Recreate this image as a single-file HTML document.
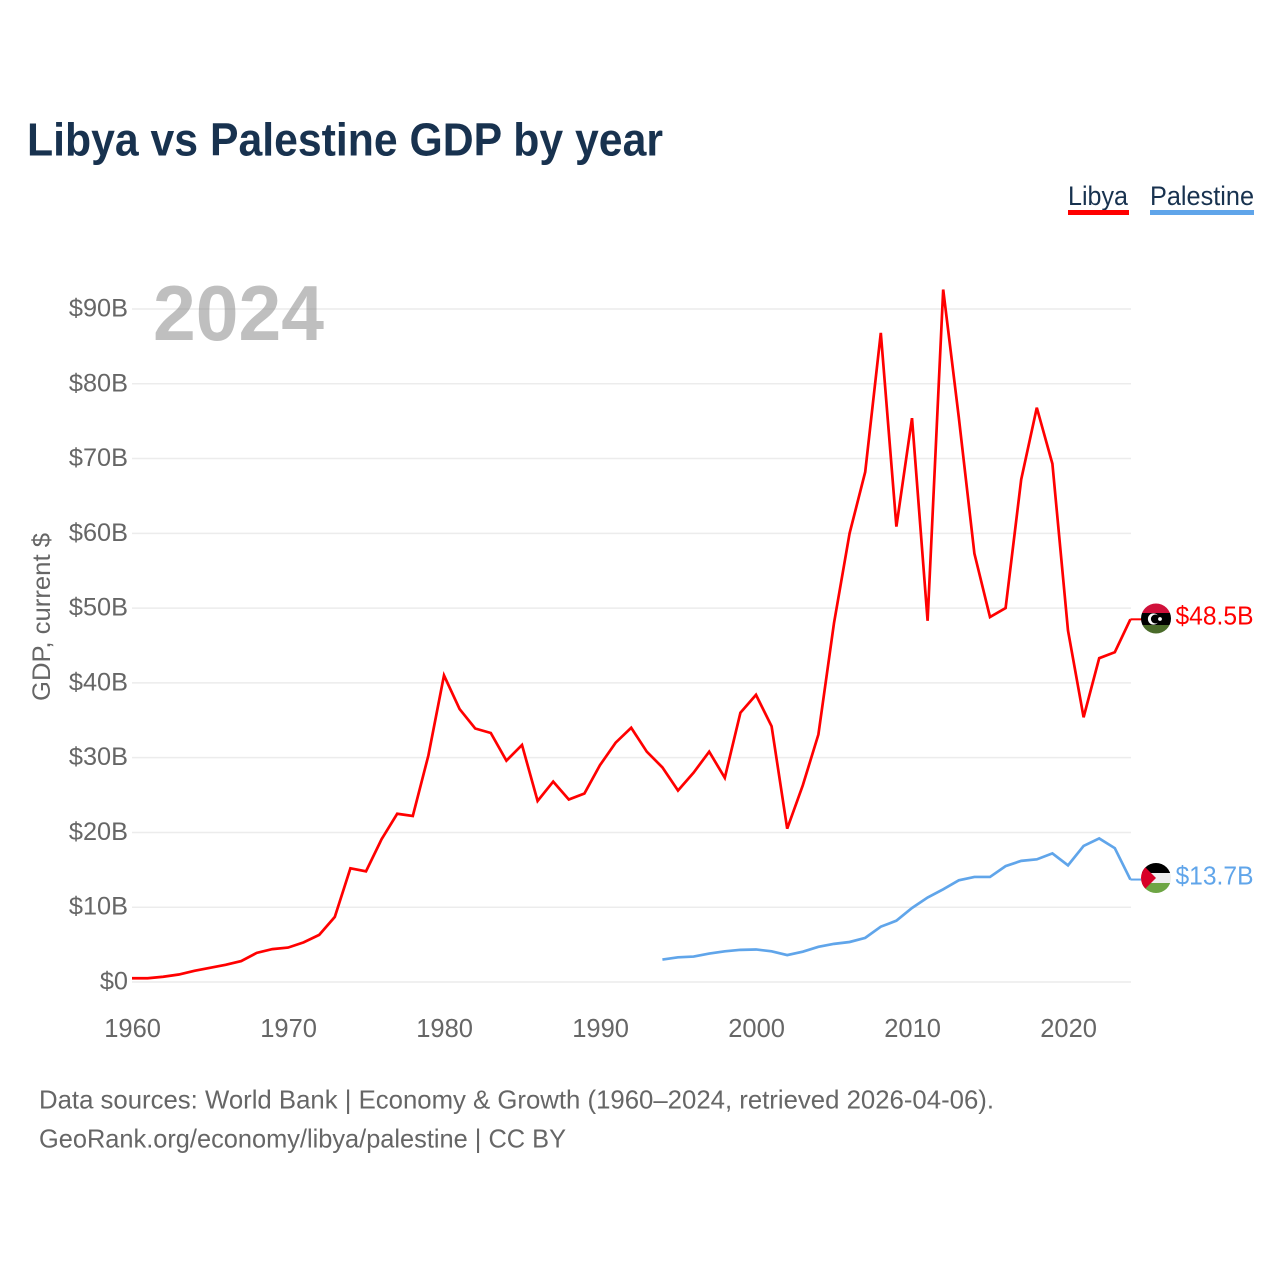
<!DOCTYPE html>
<html lang="en">
<head>
<meta charset="utf-8">
<title>Libya vs Palestine GDP by year</title>
<style>
html,body{margin:0;padding:0;background:#fff;}
svg{display:block;font-family:"Liberation Sans",Arial,sans-serif;}
</style>
</head>
<body>
<svg id="chart" width="1280" height="1280" viewBox="0 0 1280 1280" xmlns="http://www.w3.org/2000/svg">
  <defs>
    <clipPath id="clip-libya"><circle cx="1156" cy="618.5" r="15"/></clipPath>
    <clipPath id="clip-palestine"><circle cx="1156" cy="878" r="15"/></clipPath>
  </defs>
  <rect width="1280" height="1280" fill="#fff"/>
  <text x="27" y="155.5" font-size="46" font-weight="bold" fill="#18324f" textLength="636" lengthAdjust="spacingAndGlyphs">Libya vs Palestine GDP by year</text>

  <g style="cursor:pointer">
    <text x="1068" y="205" font-size="26.5" fill="#18324f" textLength="60" lengthAdjust="spacingAndGlyphs">Libya</text>
    <rect x="1068" y="210" width="61" height="5" fill="#ff0000"/>
  </g>
  <g style="cursor:pointer">
    <text x="1150" y="205" font-size="26.5" fill="#18324f" textLength="104" lengthAdjust="spacingAndGlyphs">Palestine</text>
    <rect x="1150" y="210" width="104" height="5" fill="#60a5ea"/>
  </g>

  <g id="grid"></g>
  <g id="y-ticks"></g>
  <g id="x-ticks"></g>

  <text transform="translate(50,617) rotate(-90)" text-anchor="middle" font-size="25" fill="#666" textLength="168" lengthAdjust="spacingAndGlyphs">GDP, current $</text>

  <text x="153" y="340" font-size="78" font-weight="bold" fill="#808080" fill-opacity="0.5" textLength="171" lengthAdjust="spacingAndGlyphs">2024</text>

  <path id="line-libya" fill="none" stroke="#ff0000" stroke-width="2.7" stroke-linejoin="miter"/>
  <path id="line-palestine" fill="none" stroke="#60a5ea" stroke-width="2.7" stroke-linejoin="miter"/>
  <path id="connector-libya" fill="none" stroke="#ff0000" stroke-width="2"/>
  <path id="connector-palestine" fill="none" stroke="#60a5ea" stroke-width="2"/>

  <g clip-path="url(#clip-libya)">
    <rect x="1141" y="603" width="30" height="10" fill="#d0103a"/>
    <rect x="1141" y="613" width="30" height="12" fill="#000"/>
    <rect x="1141" y="625" width="30" height="9" fill="#4a6b2a"/>
    <circle cx="1153.5" cy="619" r="5.6" fill="#fff"/>
    <circle cx="1155.4" cy="619" r="4.5" fill="#000"/>
    <circle cx="1160" cy="619" r="1.9" fill="#fff"/>
  </g>
  <g clip-path="url(#clip-palestine)">
    <rect x="1141" y="863" width="30" height="10" fill="#000"/>
    <rect x="1141" y="873" width="30" height="10" fill="#eeeeee"/>
    <rect x="1141" y="883" width="30" height="10" fill="#6da544"/>
    <polygon points="1141,863 1156,878 1141,893" fill="#d80027"/>
  </g>

  <text x="1175.5" y="624.5" font-size="25.5" fill="#ff0000" textLength="78" lengthAdjust="spacingAndGlyphs">$48.5B</text>
  <text x="1175.5" y="884.5" font-size="25.5" fill="#60a5ea" textLength="78" lengthAdjust="spacingAndGlyphs">$13.7B</text>

  <text x="39" y="1108.5" font-size="26" fill="#666" textLength="955" lengthAdjust="spacingAndGlyphs">Data sources: World Bank | Economy &amp; Growth (1960–2024, retrieved 2026-04-06).</text>
  <text x="39" y="1147.5" font-size="26" fill="#666" textLength="527" lengthAdjust="spacingAndGlyphs">GeoRank.org/economy/libya/palestine | CC BY</text>
</svg>
<script>
const yTickValues = [0, 10, 20, 30, 40, 50, 60, 70, 80, 90];
const yTickLabels = ["$0", "$10B", "$20B", "$30B", "$40B", "$50B", "$60B", "$70B", "$80B", "$90B"];
const xTickYears = [1960, 1970, 1980, 1990, 2000, 2010, 2020];
const libyaStartYear = 1960;
const libyaValues = [0.5, 0.5, 0.7, 1.0, 1.5, 1.9, 2.3, 2.8, 3.9, 4.4, 4.6, 5.3, 6.3, 8.7, 15.2, 14.8, 19.1, 22.5, 22.2, 30.3, 41.0, 36.5, 33.9, 33.3, 29.6, 31.7, 24.2, 26.8, 24.4, 25.2, 29.0, 32.0, 34.0, 30.8, 28.7, 25.6, 28.0, 30.8, 27.3, 36.0, 38.4, 34.2, 20.5, 26.3, 33.1, 48.0, 60.0, 68.2, 86.8, 60.9, 75.4, 48.3, 92.6, 75.5, 57.3, 48.8, 50.0, 67.2, 76.8, 69.3, 47.0, 35.4, 43.3, 44.1, 48.5];
const palestineStartYear = 1994;
const palestineValues = [3.0, 3.3, 3.4, 3.8, 4.1, 4.3, 4.35, 4.1, 3.6, 4.05, 4.7, 5.1, 5.35, 5.9, 7.4, 8.2, 9.9, 11.3, 12.4, 13.6, 14.05, 14.05, 15.5, 16.2, 16.4, 17.2, 15.6, 18.2, 19.2, 17.9, 13.7];

const SVG_NS = "http://www.w3.org/2000/svg";
function xScale(year) { return 132 + (year - 1960) * 15.6; }
function yScale(value) { return 982 - value * 7.478; }
function linePath(startYear, values) {
  return values.map(function (v, i) {
    return (i ? "L" : "M") + xScale(startYear + i).toFixed(2) + " " + yScale(v).toFixed(2);
  }).join(" ");
}
function connectorPath(startYear, values) {
  const last = values.length - 1;
  const y = yScale(values[last]).toFixed(2);
  return "M" + xScale(startYear + last).toFixed(2) + " " + y + " L1142 " + y;
}

const gridGroup = document.getElementById("grid");
const yTickGroup = document.getElementById("y-ticks");
const xTickGroup = document.getElementById("x-ticks");

yTickValues.forEach(function (v, i) {
  const gridLine = document.createElementNS(SVG_NS, "line");
  gridLine.setAttribute("x1", xScale(1960));
  gridLine.setAttribute("x2", xScale(2024) + 0.6);
  gridLine.setAttribute("y1", yScale(v));
  gridLine.setAttribute("y2", yScale(v));
  gridLine.setAttribute("stroke", "#ececec");
  gridLine.setAttribute("stroke-width", "1.5");
  
  
  gridGroup.appendChild(gridLine);

  const label = document.createElementNS(SVG_NS, "text");
  label.setAttribute("x", 128);
  label.setAttribute("y", yScale(v) + 7.5);
  label.setAttribute("text-anchor", "end");
  label.setAttribute("font-size", "25.3");
  label.setAttribute("fill", "#666");
  
  
  label.textContent = yTickLabels[i];
  yTickGroup.appendChild(label);
});

xTickYears.forEach(function (year) {
  const label = document.createElementNS(SVG_NS, "text");
  label.setAttribute("x", xScale(year) + 0.6);
  label.setAttribute("y", 1037);
  label.setAttribute("text-anchor", "middle");
  label.setAttribute("font-size", "25.5");
  label.setAttribute("fill", "#666");
  
  
  label.textContent = String(year);
  xTickGroup.appendChild(label);
});

document.getElementById("line-libya").setAttribute("d", linePath(libyaStartYear, libyaValues));
document.getElementById("line-palestine").setAttribute("d", linePath(palestineStartYear, palestineValues));
document.getElementById("connector-libya").setAttribute("d", connectorPath(libyaStartYear, libyaValues));
document.getElementById("connector-palestine").setAttribute("d", connectorPath(palestineStartYear, palestineValues));
</script>
</body>
</html>
